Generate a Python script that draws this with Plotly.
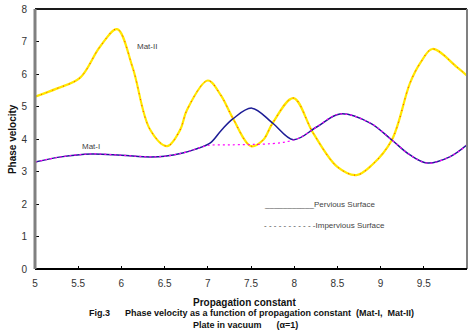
import plotly.graph_objects as go

# ---- data ----
x_ticks = [5, 5.5, 6, 6.5, 7, 7.5, 8, 8.5, 9, 9.5, 10]
x_tick_text = ["5", "5.5", "6", "6.5", "7", "7.5", "8", "8.5", "9", "9.5", "10"]
y_ticks = [0, 1, 2, 3, 4, 5, 6, 7, 8]

mat2_x = [5.0, 5.25, 5.52, 5.75, 5.95, 6.13, 6.33, 6.53, 6.68, 6.76, 7.0, 7.15, 7.29,
          7.5, 7.64, 7.75, 7.99, 8.22, 8.5, 8.72, 8.9, 9.13, 9.34, 9.46, 9.6, 9.88, 10.0]
mat2_pervious = [5.30, 5.55, 5.88, 6.83, 7.38, 6.2, 4.3, 3.78, 4.28, 4.9, 5.8, 5.35, 4.64,
                 3.78, 3.97, 4.49, 5.26, 4.18, 3.14, 2.89, 3.2, 3.97, 5.72, 6.34, 6.77, 6.22, 5.95]
mat2_impervious = [5.30, 5.55, 5.88, 6.83, 7.38, 6.2, 4.3, 3.78, 4.28, 4.9, 5.8, 5.35, 4.64,
                   3.78, 3.97, 4.49, 5.26, 4.18, 3.14, 2.89, 3.2, 3.97, 5.72, 6.34, 6.77, 6.22, 5.95]

mat1_x = [5.0, 5.3, 5.65, 6.0, 6.33, 6.5, 6.71, 6.85, 7.03, 7.16, 7.29, 7.51, 7.75, 7.99,
          8.26, 8.53, 8.88, 9.13, 9.34, 9.54, 9.8, 10.0]
mat1_pervious = [3.29, 3.45, 3.54, 3.5, 3.45, 3.47, 3.57, 3.68, 3.88, 4.28, 4.62, 4.95, 4.49, 3.98,
                 4.37, 4.77, 4.49, 3.97, 3.51, 3.26, 3.45, 3.82]

mat1_imp_x = [5.0, 5.3, 5.65, 6.0, 6.33, 6.5, 6.71, 6.85, 7.0, 7.25, 7.5, 7.75, 7.92, 8.07,
              8.26, 8.53, 8.88, 9.13, 9.34, 9.54, 9.8, 10.0]
mat1_impervious = [3.29, 3.45, 3.54, 3.5, 3.45, 3.47, 3.57, 3.68, 3.8, 3.82, 3.83, 3.86, 3.92, 4.05,
                   4.37, 4.77, 4.49, 3.97, 3.51, 3.26, 3.45, 3.82]

FONT = "Liberation Sans, Arial, sans-serif"

fig = go.Figure()
fig.add_trace(go.Scatter(x=mat2_x, y=mat2_pervious, mode="lines", line_shape="spline",
                         line=dict(color="#FFE800", width=2.2), showlegend=False))
fig.add_trace(go.Scatter(x=mat2_x, y=mat2_impervious, mode="lines", line_shape="spline",
                         line=dict(color="#FF2000", width=0.9, dash="1px,5px"), showlegend=False))
fig.add_trace(go.Scatter(x=mat1_x, y=mat1_pervious, mode="lines", line_shape="spline",
                         line=dict(color="#1C1C96", width=1.5), showlegend=False))
fig.add_trace(go.Scatter(x=mat1_imp_x, y=mat1_impervious, mode="lines", line_shape="spline",
                         line=dict(color="#FF00FF", width=1.2, dash="2px,3px"), showlegend=False))

ann_font = dict(family=FONT, size=8, color="#444444")
bold_font = dict(family=FONT, size=10, color="#111111")
annotations = [
    dict(x=6.16, y=6.86, xref="x", yref="y", text="Mat-II", showarrow=False,
         xanchor="left", yanchor="middle", font=ann_font),
    dict(x=5.52, y=3.78, xref="x", yref="y", text="Mat-I", showarrow=False,
         xanchor="left", yanchor="middle", font=ann_font),
    dict(x=7.63, y=2.0, xref="x", yref="y", text="___________Pervious Surface", showarrow=False,
         xanchor="left", yanchor="middle", font=ann_font),
    dict(x=7.63, y=1.35, xref="x", yref="y", text="- - - - - - - - - - -Impervious Surface",
         showarrow=False, xanchor="left", yanchor="middle", font=ann_font),
    dict(x=0.486, y=-0.128, xref="paper", yref="paper", text="<b>Propagation constant</b>",
         showarrow=False, xanchor="center", yanchor="middle", font=bold_font),
    dict(x=0.502, y=-0.171, xref="paper", yref="paper",
         text="<b>Fig.3      Phase velocity as a function of propagation constant  (Mat-I,  Mat-II)</b>",
         showarrow=False, xanchor="center", yanchor="middle",
         font=dict(family=FONT, size=9, color="#111111")),
    dict(x=0.488, y=-0.217, xref="paper", yref="paper",
         text="<b>Plate in vacuum      (α=1)</b>",
         showarrow=False, xanchor="center", yanchor="middle",
         font=dict(family=FONT, size=9, color="#111111")),
    dict(x=-0.053, y=0.5, xref="paper", yref="paper", text="<b>Phase velocity</b>",
         textangle=-90, showarrow=False, xanchor="center", yanchor="middle", font=bold_font),
]

shapes = [
    dict(type="line", xref="paper", yref="paper", x0=0, x1=1, y0=1, y1=1,
         line=dict(color="#1a1a1a", width=2)),
    dict(type="line", xref="paper", yref="paper", x0=1, x1=1, y0=0, y1=1,
         line=dict(color="#808080", width=2)),
    dict(type="line", xref="paper", yref="paper", x0=0, x1=1, y0=0, y1=0,
         line=dict(color="#000000", width=2)),
    dict(type="line", xref="paper", yref="paper", x0=0, x1=0, y0=0, y1=1,
         line=dict(color="#808080", width=3)),
]

fig.update_layout(
    width=471, height=335,
    margin=dict(l=35, r=4, t=9, b=66),
    paper_bgcolor="white", plot_bgcolor="white",
    showlegend=False,
    annotations=annotations,
    shapes=shapes,
    xaxis=dict(range=[5, 10], tickvals=x_ticks, ticktext=x_tick_text,
               ticks="inside", ticklen=3, tickcolor="black", tickwidth=1,
               showgrid=False, zeroline=False, showline=False,
               tickfont=dict(family=FONT, size=10, color="#333333"),
               ticklabelstandoff=7),
    yaxis=dict(range=[0, 8], tickvals=y_ticks,
               ticks="inside", ticklen=4, tickcolor="black", tickwidth=1,
               showgrid=False, zeroline=False, showline=False,
               tickfont=dict(family=FONT, size=10, color="#333333"),
               ticklabelstandoff=7),
)

fig.write_html("out.html")
